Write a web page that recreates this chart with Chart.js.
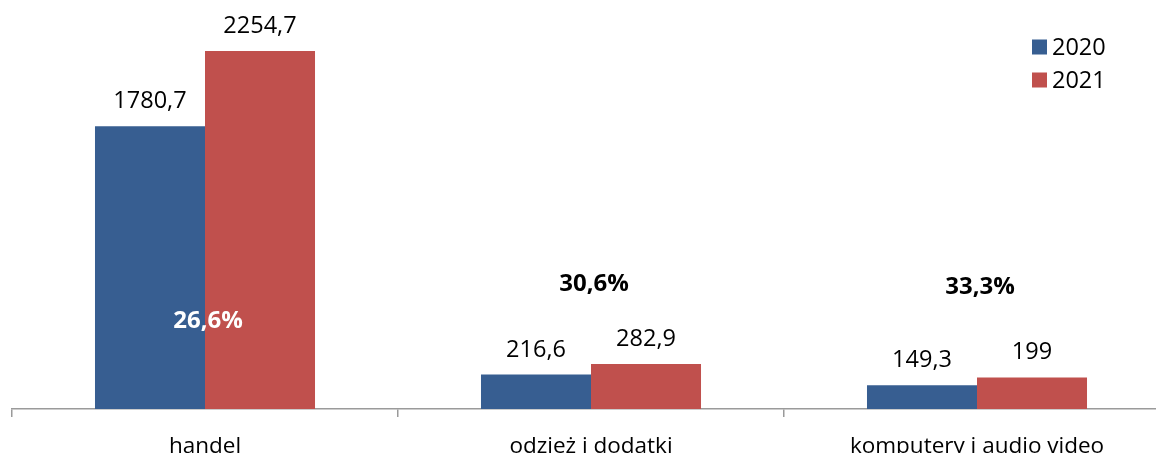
<!DOCTYPE html>
<html>
<head>
<meta charset="utf-8">
<script src="https://cdn.jsdelivr.net/npm/chart.js@4"></script>
<style>
  html, body { margin: 0; padding: 0; background: #fff; overflow: hidden; }
  #wrap { position: relative; width: 1172px; height: 476px; }
</style>
</head>
<body>
<div id="wrap"><canvas id="chart"></canvas></div>
<script>
// Dane
const categories = ['handel', 'odzież i dodatki', 'komputery i audio video'];
const years = ['2020', '2021'];
const values2020 = [1780.7, 216.6, 149.3];
const values2021 = [2254.7, 282.9, 199];
const growthLabels = ['26,6%', '30,6%', '33,3%'];

const FONT = '"Open Sans", "DejaVu Sans", sans-serif';

// Liczby z przecinkiem dziesiętnym
function formatValue(v) {
  return String(v).replace('.', ',');
}

// Etykiety wartości nad słupkami
const valueLabels = {
  id: 'valueLabels',
  afterDatasetsDraw(chart) {
    const ctx = chart.ctx;
    ctx.save();
    ctx.font = '23.5px ' + FONT;
    ctx.fillStyle = '#000';
    ctx.textAlign = 'center';
    ctx.textBaseline = 'alphabetic';
    chart.data.datasets.forEach((ds, i) => {
      chart.getDatasetMeta(i).data.forEach((bar, j) => {
        ctx.fillText(formatValue(ds.data[j]), bar.x, bar.y - 18);
      });
    });
    ctx.restore();
  }
};

// Dynamika r/r przy każdej grupie
const growthText = {
  id: 'growthText',
  afterDatasetsDraw(chart, args, opts) {
    const ctx = chart.ctx;
    const x = chart.scales.x;
    const y = chart.scales.y;
    ctx.save();
    ctx.font = 'bold 24px ' + FONT;
    ctx.textAlign = 'center';
    ctx.textBaseline = 'middle';
    growthLabels.forEach((txt, i) => {
      ctx.fillStyle = opts.colors[i];
      ctx.fillText(txt, x.getPixelForValue(i) + 3, y.getPixelForValue(opts.at[i]));
    });
    ctx.restore();
  }
};

// Legenda w prawym górnym rogu
const boxLegend = {
  id: 'boxLegend',
  afterDraw(chart, args, opts) {
    const ctx = chart.ctx;
    ctx.save();
    ctx.font = '23.5px ' + FONT;
    ctx.textBaseline = 'middle';
    chart.data.datasets.forEach((ds, i) => {
      const cy = opts.top + i * opts.step;
      ctx.fillStyle = ds.backgroundColor;
      ctx.fillRect(opts.left, cy - 7.5, 15, 15);
      ctx.fillStyle = '#000';
      ctx.fillText(ds.label, opts.left + 20, cy + 1);
    });
    ctx.restore();
  }
};

new Chart(document.getElementById('chart'), {
  type: 'bar',
  data: {
    labels: categories,
    datasets: [
      { label: years[0], data: values2020, backgroundColor: '#375E91' },
      { label: years[1], data: values2021, backgroundColor: '#C0504D' }
    ]
  },
  options: {
    responsive: true,
    maintainAspectRatio: false,
    animation: false,
    events: [],
    layout: { padding: { top: 12, left: 12, right: 2, bottom: 0 } },
    datasets: {
      bar: { barPercentage: 1, categoryPercentage: 0.57 }
    },
    scales: {
      x: {
        grid: {
          display: true,
          offset: true,
          drawOnChartArea: false,
          drawTicks: true,
          tickLength: 8,
          color: '#9A9A9A',
          lineWidth: 1.5
        },
        border: { display: true, color: '#9A9A9A', width: 1.5 },
        ticks: {
          color: '#000',
          padding: 16,
          maxRotation: 0,
          font: { family: FONT, size: 22.5 }
        }
      },
      y: {
        display: false,
        min: 0,
        max: 2500
      }
    },
    plugins: {
      legend: { display: false },
      tooltip: { enabled: false },
      growthText: { at: [554, 787, 768], colors: ['#fff', '#000', '#000'] },
      boxLegend: { left: 1032, top: 47, step: 33 }
    }
  },
  plugins: [valueLabels, growthText, boxLegend]
});
</script>
</body>
</html>
